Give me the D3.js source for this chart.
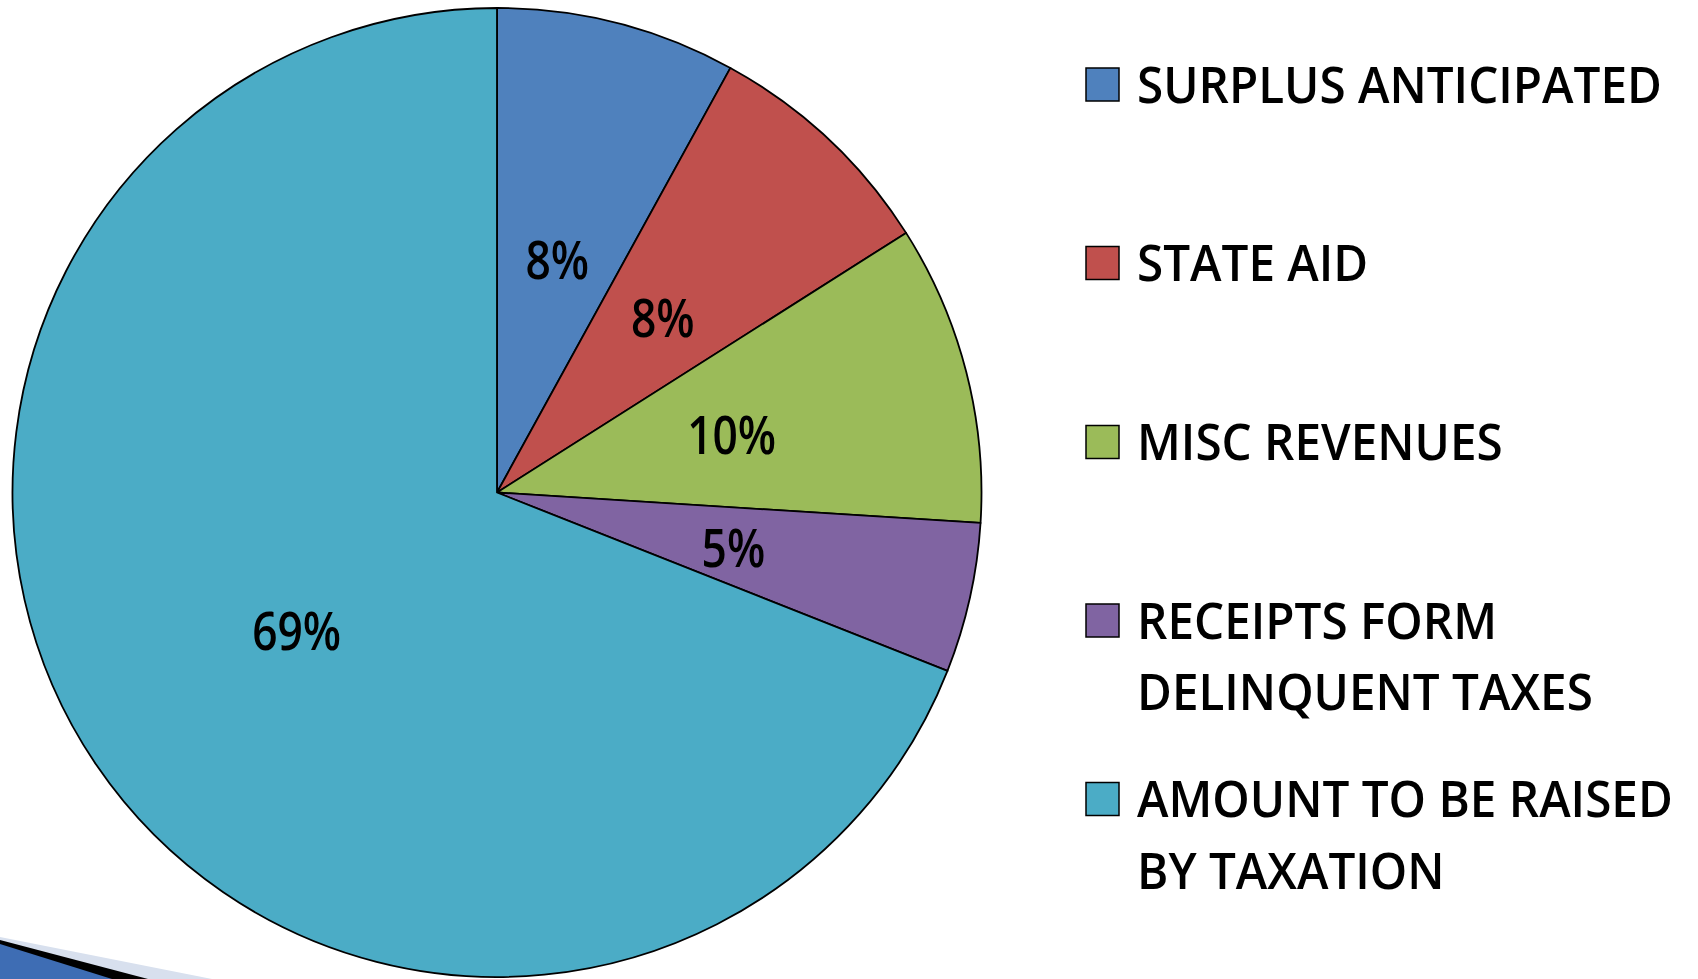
<!DOCTYPE html>
<html><head><meta charset="utf-8">
<script src="https://cdn.jsdelivr.net/npm/d3@7"></script>
<style>html,body{margin:0;padding:0;background:#fff;overflow:hidden}</style>
</head><body>
<svg id="chart" width="1698" height="979"></svg>
<script>
const categories = ["SURPLUS ANTICIPATED","STATE AID","MISC REVENUES","RECEIPTS FORM DELINQUENT TAXES","AMOUNT TO BE RAISED BY TAXATION"];
const values = [8, 8, 10, 5, 69];
const valueLabels = ["8%", "8%", "10%", "5%", "69%"];
const legendLines = [["SURPLUS ANTICIPATED"],["STATE AID"],["MISC REVENUES"],["RECEIPTS FORM","DELINQUENT TAXES"],["AMOUNT TO BE RAISED","BY TAXATION"]];
const colors = ["#4F81BD","#C0504D","#9BBB59","#8064A2","#4BACC6"];

const svg = d3.select("#chart");
const W = 1698, H = 979;
const cx = 497, cy = 492.5, R = 484.5;

// decoration bottom-left
const deco = svg.append("g");
deco.append("polygon").attr("points","0,937 212,979 0,979").attr("fill","#D8E0EE");
deco.append("polygon").attr("points","0,940 148,979 0,979").attr("fill","#000");
deco.append("polygon").attr("points","0,944 112,979 0,979").attr("fill","#3E6DB4");

const pie = d3.pie().sort(null).value(d => d);
const arcs = pie(values);
const arc = d3.arc().innerRadius(0).outerRadius(R);
const labelArc = d3.arc().innerRadius(R*0.5).outerRadius(R*0.5);

const g = svg.append("g").attr("transform", `translate(${cx},${cy})`);
g.selectAll("path.slice").data(arcs).join("path")
  .attr("class","slice")
  .attr("d", arc)
  .attr("fill", (d,i) => colors[i])
  .attr("stroke", "#000")
  .attr("stroke-width", 1.8)
  .attr("stroke-linejoin","round");

const fontFam = "'Open Sans', 'Noto Sans', sans-serif";
const lbls = g.selectAll("text.lbl").data(arcs).join("text")
  .attr("class","lbl")
  .attr("font-family", fontFam)
  .attr("font-size", 52)
  .attr("font-weight", 600)
  .attr("fill","#000")
  .attr("text-anchor","middle")
  .attr("dominant-baseline","central")
  .text((d,i) => valueLabels[i]);
const natural10 = lbls.filter((d,i)=>i===2).node().getComputedTextLength();
const kL = 89 / natural10;
lbls.attr("transform", d => { const c = labelArc.centroid(d); return `translate(${c[0]},${c[1]+1}) scale(${kL},1)`; });

// legend
const legX = 1086, textX = 1137;
const baselines = [[102.5],[281],[460],[638.5,709.5],[817,889]];
const leg = svg.append("g");
const fs = 51;
const items = leg.selectAll("g.item").data(legendLines).join("g").attr("class","item");
items.append("rect")
  .attr("x", legX)
  .attr("y", (d,i) => baselines[i][0] - 18 - 16.5)
  .attr("width", 33).attr("height", 33)
  .attr("fill", (d,i) => colors[i])
  .attr("stroke", "#000").attr("stroke-width", 1.5);
const texts = [];
items.each(function(lines, i){
  lines.forEach((ln, j) => {
    const t = d3.select(this).append("text")
      .attr("font-family", fontFam)
      .attr("font-size", fs)
      .attr("font-weight", 600)
      .attr("fill","#000")
      .attr("data-y", baselines[i][j])
      .text(ln);
    texts.push(t);
  });
});
const nat = texts[0].node().getComputedTextLength();
const kT = 525 / nat;
texts.forEach(t => t.attr("transform", `translate(${textX},${t.attr("data-y")}) scale(${kT},1)`));
</script>
</body></html>
